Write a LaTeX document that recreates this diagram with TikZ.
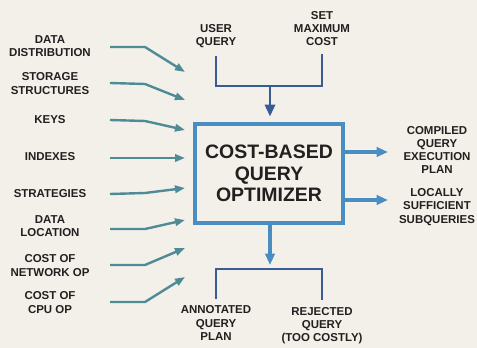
\documentclass[tikz,border=0pt]{standalone}
\usepackage{fontspec}
\setmainfont{Liberation Sans}
\usetikzlibrary{arrows.meta}

\definecolor{paper}{HTML}{F3F0E9}
\definecolor{ink}{HTML}{231F20}
\definecolor{boxblue}{HTML}{4A8DC2}
\definecolor{navy}{HTML}{3A5C96}
\definecolor{teal}{HTML}{4E8B96}

\tikzset{
    label text/.style={align=center,text=ink,inner sep=1pt,
        font=\bfseries\fontsize{8.6}{9.9}\selectfont},
    feed/.style={draw=teal,line width=1.8pt,
        -{Triangle[length=7.5pt,width=5.5pt]}},
    bracket/.style={draw=navy,line width=2.2pt},
    outflow/.style={draw=boxblue,line width=2.4pt,
        -{Triangle[length=8.5pt,width=7pt]}}
}

\begin{document}
\begin{tikzpicture}[x=0.75pt,y=-0.75pt]
\fill[paper] (0,0) rectangle (477,348);
\useasboundingbox (0,0) rectangle (477,348);

\begin{scope}[every node/.style={label text}]
    \node (dd) at (50,46.5) {DATA\\DISTRIBUTION};
    \node (ss) at (50,83.5) {STORAGE\\STRUCTURES};
    \node (ky) at (50,120) {KEYS};
    \node (ix) at (50,157) {INDEXES};
    \node (st) at (50,194) {STRATEGIES};
    \node (dl) at (50,226.5) {DATA\\LOCATION};
    \node (cn) at (50,265.5) {COST OF\\NETWORK OP};
    \node (cc) at (50,302.5) {COST OF\\CPU OP};

    \node (uq) at (216,36) {USER\\QUERY};
    \node (smc) at (322,28.5) {SET\\MAXIMUM\\COST};

    \node (cqe) at (437,150) {COMPILED\\QUERY\\EXECUTION\\PLAN};
    \node (lss) at (437,207) {LOCALLY\\SUFFICIENT\\SUBQUERIES};

    \node (aqp) at (216,323) {ANNOTATED\\QUERY\\PLAN};
    \node (rq) at (322,325.5) {REJECTED\\QUERY\\(TOO COSTLY)};
\end{scope}

\node (box) at (269,173.5) [draw=boxblue,line width=3pt,fill=paper,
    minimum width=111pt,minimum height=74.25pt,align=center,text=ink,
    font=\bfseries\fontsize{14.6}{16}\selectfont] {COST-BASED\\QUERY\\OPTIMIZER};

\foreach \i/\ys/\yk/\ye in {1/47/47/72, 2/83/84/100, 3/120/121/130, 4/158/158/158,
                            5/194/193/188, 6/229/229/220, 7/265/265/248, 8/302/302/277} {
    \coordinate (s\i) at (110,\ys);
    \coordinate (k\i) at (145,\yk);
    \coordinate (e\i) at (185,\ye);
    \draw[feed] (s\i) -- (k\i) -- (e\i);
}

\coordinate (join) at (270,86);
\draw[bracket] ([yshift=-5pt]uq.south) |- (join) -| ([yshift=-5pt]smc.south);
\draw[bracket,-{Triangle[length=9pt,width=7.5pt]},shorten >=4pt] (join) -- (box.north -| join);

\coordinate (split) at (270,269);
\draw[outflow,shorten >=3pt] (box.south -| split) -- (split);
\draw[bracket] ([yshift=4pt]aqp.north) |- (split) -| ([yshift=4pt]rq.north);

\coordinate (r1) at (388,152);
\coordinate (r2) at (388,200);
\draw[outflow] (box.east |- r1) -- (r1);
\draw[outflow] (box.east |- r2) -- (r2);
\end{tikzpicture}
\end{document}
